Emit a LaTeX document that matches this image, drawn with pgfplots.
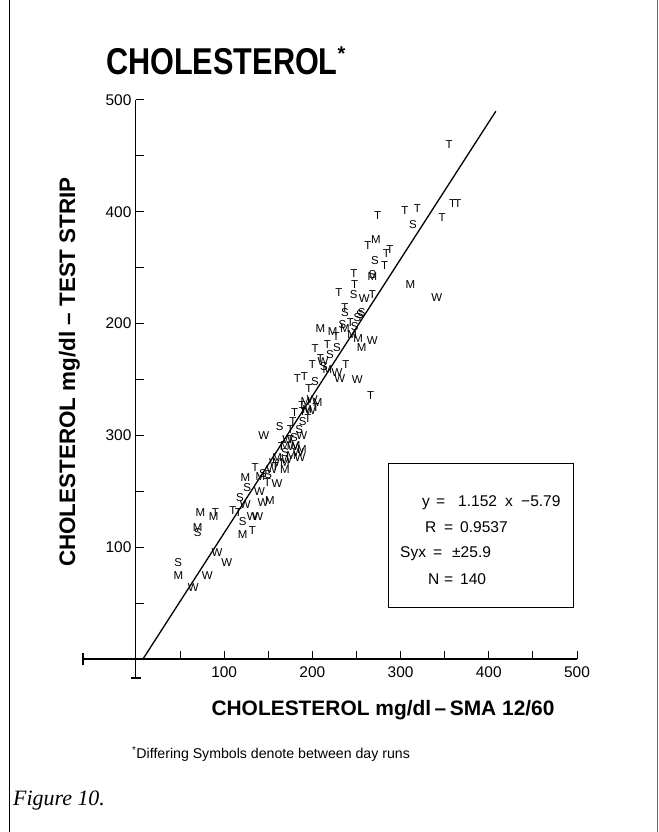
\documentclass[border=0pt]{standalone}
\usepackage{pgfplots}
\pgfplotsset{compat=1.18}
\usepackage{fontspec}
\usepackage{graphicx}
\setmainfont{Liberation Sans}
\newfontfamily\figfont{Liberation Serif}
\pgfplotsset{letter/.style={only marks, mark=text, text mark={#1}, text mark as node=true, text mark style={font=\fontsize{11.5}{11.5}\selectfont, inner sep=0pt}}}

\begin{document}
\begin{tikzpicture}
\path[use as bounding box] (0,0) rectangle (659bp,832bp);
\fill[white] (0,0) rectangle (659bp,832bp);
\draw[line width=0.8pt] (9bp,0) -- (9bp,832bp);
\draw[line width=0.5pt, black!60] (657bp,0) -- (657bp,832bp);

\begin{axis}[
  at={(83bp,154bp)}, anchor=south west,
  scale only axis, width=494bp, height=578bp,
  xmin=-60, xmax=500, ymin=-17, ymax=500,
  axis lines=middle,
  axis line style={-, line width=1.1pt},
  clip=false,
  tick align=inside,
  major tick length=8bp,
  tick style={line width=1pt, black},
  xtick={50,100,...,500},
  xticklabels={,100,,200,,300,,400,,500},
  ytick={50,100,...,500},
  yticklabels={,100,,300,,200,,400,,500},
  /pgf/number format/assume math mode=true,
  ticklabel style={font=\fontsize{15.5}{16}\selectfont},
  xticklabel style={anchor=north, yshift=-4bp},
  yticklabel style={anchor=east, xshift=-1bp},
]
% T series
\addplot[letter=T] coordinates {
(355,460) (359,407) (365,407) (347,395) (305,401) (319,403) (274,397) (263,370)
(284,363) (288,366) (282,352) (247,345) (230,328) (248,335) (268,326) (237,314)
(203,278) (217,281) (227,288) (200,263) (238,263) (183,251) (191,253) (196,242)
(266,236) (180,220) (189,221) (188,227) (178,212) (175,205) (135,171) (149,158)
(110,133) (132,115) (90,131) (209,269) (175,196) (204,225) (243,301) (116,131)
(158,172) (165,190) (195,215)
};
% S series
\addplot[letter=S] coordinates {
(314,389) (271,356) (268,344) (247,326) (237,310) (254,308) (248,297) (228,279)
(203,248) (189,212) (163,208) (126,153) (118,144) (121,123) (48,86) (70,113)
(256,310) (251,305) (144,166) (220,272) (234,299) (169,185) (179,198)
(150,165) (185,205) (213,262)
};
% M series
\addplot[letter=M] coordinates {
(272,375) (311,335) (268,342) (209,296) (223,293) (237,296) (252,287) (256,279)
(206,229) (169,176) (169,169) (124,162) (152,142) (121,111) (73,131) (88,127)
(70,118) (48,75) (141,163) (194,223) (217,259) (169,191) (176,182) (181,191)
(188,187) (160,180) (192,230) (245,290)
};
% W series
\addplot[letter=W] coordinates {
(341,323) (259,322) (268,285) (251,250) (231,251) (228,256) (145,200) (160,157)
(144,140) (132,127) (138,127) (92,95) (103,86) (81,75) (65,64) (188,200)
(172,196) (184,185) (186,180) (171,178) (154,169) (124,138) (200,232) (212,266)
(157,176) (178,190) (198,222) (140,150)
};
% regression line
\addplot[line width=1.3pt, black, no markers] coordinates {(8,0) (408,490)};
% axis end caps
\draw[line width=1.1pt] (axis cs:-60,-5.5) -- (axis cs:-60,5.5);
\draw[line width=1.1pt] (axis cs:-6,-17) -- (axis cs:6,-17);
% stats box
\draw[line width=1.2pt] (axis cs:286,46) rectangle (axis cs:496,175);
\end{axis}

% title
\node[anchor=base west, inner sep=0] at (106bp,757bp) {\scalebox{0.82}[1]{\fontsize{37.5}{40}\selectfont\bfseries CHOLESTEROL}\raisebox{14bp}{\fontsize{20}{20}\selectfont\bfseries *}};
% y label
\node[rotate=90, anchor=base, inner sep=0, font=\bfseries\fontsize{22.5}{24}\selectfont] at (75bp,460bp) {CHOLESTEROL mg/dl -- TEST STRIP};
% x label
\node[anchor=base, inner sep=0, font=\bfseries\fontsize{21}{22}\selectfont] at (383bp,116bp) {CHOLESTEROL mg/dl\,--\,SMA 12/60};
% stats text
\begin{scope}[every node/.style={anchor=base west, inner sep=0, font=\fontsize{15.6}{16}\selectfont}]
\node at (422bp,325bp) {y};
\node at (436bp,325bp) {=};
\node at (458bp,325bp) {1.152};
\node at (505bp,325bp) {x};
\node at (521bp,325bp) {−5.79};
\node at (425bp,299bp) {R};
\node at (444bp,299bp) {=};
\node at (460bp,299bp) {0.9537};
\node at (400bp,274bp) {Syx};
\node at (433bp,274bp) {=};
\node at (452bp,274bp) {±25.9};
\node at (428bp,247bp) {N};
\node at (444bp,247bp) {=};
\node at (460bp,247bp) {140};
\end{scope}
% footnote
\node[anchor=base, inner sep=0, font=\fontsize{14.2}{16}\selectfont] at (271bp,73bp) {\textsuperscript{*}Differing Symbols denote between day runs};
% figure caption
\node[anchor=base west, inner sep=0, font=\figfont\itshape\fontsize{22}{24}\selectfont] at (13bp,27bp) {Figure 10.};
\end{tikzpicture}
\end{document}
